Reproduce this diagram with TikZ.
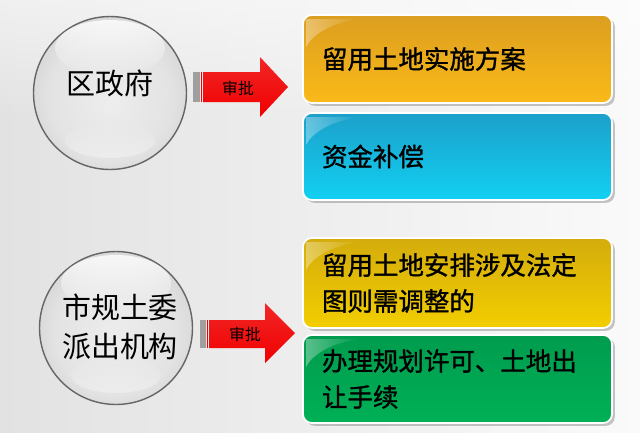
\documentclass[tikz,border=0pt]{standalone}
\usepackage{fontspec}
\setmainfont{Noto Sans CJK SC}
\newfontfamily\boxfont{Noto Sans CJK SC}[FakeBold=1.2]
\usetikzlibrary{shadows,fadings}
\definecolor{bgA}{RGB}{226,226,226}
\definecolor{bgB}{RGB}{250,250,250}
\definecolor{orA}{RGB}{220,158,32}
\definecolor{orB}{RGB}{250,186,24}
\definecolor{cyA}{RGB}{28,160,202}
\definecolor{cyB}{RGB}{18,208,242}
\definecolor{yeA}{RGB}{212,172,12}
\definecolor{yeB}{RGB}{242,206,0}
\definecolor{grA}{RGB}{0,156,78}
\definecolor{grB}{RGB}{0,176,86}
\definecolor{arrRed}{RGB}{240,0,0}
\pgfdeclareradialshading{sphere}{\pgfpoint{0bp}{-3bp}}{%
 color(0bp)=(gray!14); color(20bp)=(gray!22); color(32bp)=(gray!38);
 color(41bp)=(gray!55); color(47bp)=(gray!72); color(50bp)=(gray!92)}
\tikzset{
 box/.style={rounded corners=5pt, draw=white, line width=1pt,
   drop shadow={shadow xshift=1.6pt, shadow yshift=-1.6pt, opacity=0.45, fill=gray},
   minimum width=6.18cm, text width=5.42cm, align=left, inner xsep=0.38cm,
   font=\boxfont\fontsize{14.5}{20.5}\selectfont},
 ball/.style={circle, shading=sphere, draw=gray!80!black, line width=0.8pt,
   minimum size=3.06cm, inner sep=0pt, align=center},
 balltext/.style={font=\fontsize{16.5}{22.5}\selectfont, align=center},
 lbl/.style={font=\fontsize{9}{10}\selectfont, inner sep=0pt},
}
\begin{document}
\begin{tikzpicture}[x=0.02cm,y=-0.02cm]
\path[use as bounding box] (0,0) rectangle (640,433);
\shade[left color=bgA, right color=bgB] (0,0) rectangle (640,433);
\fill[white,opacity=0.5,path fading=south] (0,0) rectangle (640,120);

% spheres
\node[ball] (c1) at (110,93) {};
\fill[white,opacity=0.8,path fading=south] (110,48) ellipse (55 and 28);
\fill[white,opacity=0.35,path fading=north] (110,140) ellipse (45 and 18);
\node[balltext] (t1) at (110,83) {区政府};

\node[ball] (c2) at (116,328) {};
\fill[white,opacity=0.8,path fading=south] (116,283) ellipse (55 and 28);
\fill[white,opacity=0.35,path fading=north] (116,375) ellipse (45 and 18);
\node[balltext] (t2) at (120,327) {市规土委\\派出机构};

% boxes
\node[box, top color=orA, bottom color=orB, minimum height=1.76cm] (b1) at (457.5,59) {留用土地实施方案};
\node[box, top color=cyA, bottom color=cyB, minimum height=1.74cm] (b2) at (457.5,156.5) {资金补偿};
\node[box, top color=yeA, bottom color=yeB, minimum height=1.80cm] (b3) at (457.5,283) {留用土地安排涉及法定\\图则需调整的};
\node[box, top color=grA, bottom color=grB, minimum height=1.76cm] (b4) at (457.5,379) {办理规划许可、土地出\\让手续};

% gloss highlights
\foreach \yy in {17,115,240,337}{
 \fill[white,opacity=0.35,path fading=east] (306,\yy+2) -- (360,\yy+2) .. controls (330,\yy+6) and (312,\yy+18) .. (306,\yy+30) -- cycle;
}

% arrows
\fill[gray!75] (193,72) rectangle (200,102);
\fill[arrRed] (200.5,72) rectangle (201.5,102);
\shade[top color=arrRed!85!white, bottom color=arrRed] (203,72) -- (260,72) -- (260,57) -- (288,87) -- (260,117) -- (260,102) -- (203,102) -- cycle;
\node[lbl] (a1) at (238,88) {审批};

\fill[gray!75] (200,320) rectangle (206,348);
\fill[arrRed] (206.5,320) rectangle (207.5,348);
\shade[top color=arrRed!85!white, bottom color=arrRed] (209,320) -- (265,320) -- (265,303) -- (295,333) -- (265,363) -- (265,348) -- (209,348) -- cycle;
\node[lbl] (a2) at (245,334) {审批};
\end{tikzpicture}
\end{document}
